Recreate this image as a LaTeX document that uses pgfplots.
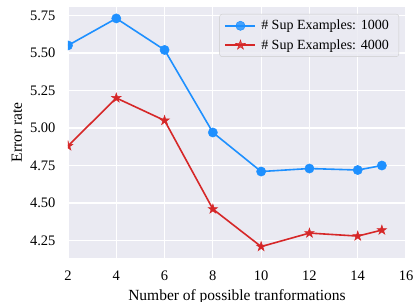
\documentclass[border=0pt]{standalone}
\usepackage{fontspec}
\setmainfont{Liberation Serif}
\usepackage{pgfplots}
\pgfplotsset{compat=1.18}
\usetikzlibrary{calc}
\definecolor{bg}{HTML}{EAEAF2}
\definecolor{myblue}{HTML}{1E90FF}
\definecolor{myred}{HTML}{D62728}
\pgfdeclareplotmark{fstar}{%
  \pgfpathmoveto{\pgfpointpolar{90}{\pgfplotmarksize}}%
  \pgfpathlineto{\pgfpointpolar{126}{0.382*\pgfplotmarksize}}%
  \pgfpathlineto{\pgfpointpolar{162}{\pgfplotmarksize}}%
  \pgfpathlineto{\pgfpointpolar{198}{0.382*\pgfplotmarksize}}%
  \pgfpathlineto{\pgfpointpolar{234}{\pgfplotmarksize}}%
  \pgfpathlineto{\pgfpointpolar{270}{0.382*\pgfplotmarksize}}%
  \pgfpathlineto{\pgfpointpolar{306}{\pgfplotmarksize}}%
  \pgfpathlineto{\pgfpointpolar{342}{0.382*\pgfplotmarksize}}%
  \pgfpathlineto{\pgfpointpolar{18}{\pgfplotmarksize}}%
  \pgfpathlineto{\pgfpointpolar{54}{0.382*\pgfplotmarksize}}%
  \pgfpathclose
  \pgfusepathqfillstroke
}
\begin{document}
\begin{tikzpicture}
\begin{axis}[name=ax, scale only axis, width=338pt, height=251pt,
  xmin=2, xmax=16, ymin=4.134, ymax=5.806,
  xtick={2,4,...,16}, ytick={4.25,4.5,4.75,5,5.25,5.5,5.75},
  yticklabel style={/pgf/number format/fixed, /pgf/number format/fixed zerofill, /pgf/number format/precision=2, xshift=-9pt},
  /pgf/number format/assume math mode=true,
  axis background/.style={fill=bg},
  axis line style={draw=none},
  grid=major, major grid style={white, line width=1.2pt},
  tick style={draw=none},
  tick label style={font=\fontsize{14.5}{16}\selectfont},
  xticklabel style={yshift=-9pt},
  label style={font=\fontsize{15.5}{18}\selectfont},
  xlabel={Number of possible tranformations},
  ylabel={Error rate},
  xlabel style={at={(axis description cs:0.5,0)}, anchor=center, yshift=-39pt},
  ylabel style={at={(axis description cs:0,0.5)}, anchor=center, yshift=51pt},
  clip marker paths=true,
  legend style={at={(rel axis cs:1,1)}, anchor=north east, xshift=-7pt, yshift=-7pt,
    fill=bg, fill opacity=0.8, text opacity=1, draw=black!20, rounded corners=2.5pt,
    font=\fontsize{14}{16}\selectfont, row sep=4pt, inner xsep=5pt, inner ysep=4pt,
    nodes={inner xsep=5pt}},
  legend cell align=left,
  legend image code/.code={\draw[mark repeat=2, mark phase=2] plot coordinates {(0pt,0pt) (15pt,0pt) (30pt,0pt)};},
]
\addplot[myblue, line width=1.6pt, mark=*, mark size=4.6pt, mark options={solid, line width=0.5pt}]
  coordinates {(2,5.55) (4,5.73) (6,5.52) (8,4.97) (10,4.71) (12,4.73) (14,4.72) (15,4.75)};
\addlegendentry{\# Sup Examples: 1000}
\addplot[myred, line width=1.6pt, mark=fstar, mark size=5pt, mark options={solid, line width=0.5pt}]
  coordinates {(2,4.88) (4,5.20) (6,5.05) (8,4.46) (10,4.21) (12,4.30) (14,4.28) (15,4.32)};
\addlegendentry{\# Sup Examples: 4000}
\end{axis}
\pgfresetboundingbox
\path ($(ax.south west)+(-68pt,-44pt)$) rectangle ($(ax.north east)+(11pt,7pt)$);
\end{tikzpicture}
\end{document}
